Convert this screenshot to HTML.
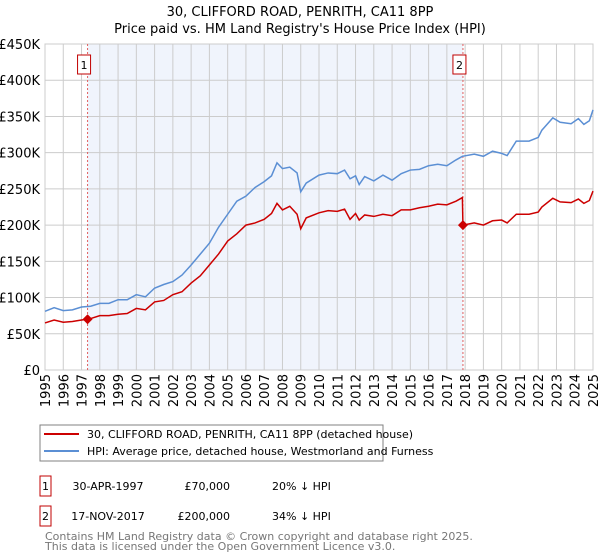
<!DOCTYPE html>
<html><head><meta charset="utf-8">
<style>
body{margin:0;background:#fff;font-family:"Liberation Sans","DejaVu Sans",sans-serif;}
#wrap{position:relative;width:600px;height:560px;overflow:hidden;}
svg text{font-family:"DejaVu Sans","Liberation Sans",sans-serif;}
</style></head>
<body>
<div id="wrap">
<svg id="chart" width="600" height="560"></svg>
</div>
<script>
const years = [1995,1995.5,1996,1996.5,1997,1997.5,1998,1998.5,1999,1999.5,2000,2000.5,2001,2001.5,2002,2002.5,2003,2003.5,2004,2004.5,2005,2005.5,2006,2006.5,2007,2007.4,2007.7,2008,2008.4,2008.8,2009,2009.3,2010,2010.5,2011,2011.4,2011.7,2012,2012.2,2012.5,2013,2013.5,2014,2014.5,2015,2015.5,2016,2016.5,2017,2017.5,2017.85,2018.5,2019,2019.5,2020,2020.3,2020.8,2021.5,2022,2022.2,2022.8,2023.2,2023.8,2024.2,2024.5,2024.8,2025];
const hpiValues = [81,86,82,83,87,88,92,92,97,97,104,101,113,118,122,131,145,160,175,197,215,233,240,252,260,268,286,278,280,272,246,258,269,272,271,276,264,268,256,267,261,269,262,271,276,277,282,284,282,290,295,298,295,302,299,296,316,316,321,331,348,342,340,347,339,344,359];
const years2 = [1995,1995.5,1996,1996.5,1997,1997.33,1997.5,1998,1998.5,1999,1999.5,2000,2000.5,2001,2001.5,2002,2002.5,2003,2003.5,2004,2004.5,2005,2005.5,2006,2006.5,2007,2007.4,2007.7,2008,2008.4,2008.8,2009,2009.3,2010,2010.5,2011,2011.4,2011.7,2012,2012.2,2012.5,2013,2013.5,2014,2014.5,2015,2015.5,2016,2016.5,2017,2017.5,2017.85,2017.88,2018.5,2019,2019.5,2020,2020.3,2020.8,2021.5,2022,2022.2,2022.8,2023.2,2023.8,2024.2,2024.5,2024.8,2025];
const priceValues = [65,69,66,67,69,70,71,75,75,77,78,85,83,94,96,104,108,120,130,145,160,178,188,200,203,208,216,230,221,226,215,195,210,217,220,219,222,208,216,207,214,212,215,213,221,221,224,226,229,228,233,238,200,203,200,206,207,203,215,215,218,225,237,232,231,236,230,234,247];
const yTicks = [0,50,100,150,200,250,300,350,400,450];
const yTickLabels = ["£0","£50K","£100K","£150K","£200K","£250K","£300K","£350K","£400K","£450K"];
const xTicks = [1995,1996,1997,1998,1999,2000,2001,2002,2003,2004,2005,2006,2007,2008,2009,2010,2011,2012,2013,2014,2015,2016,2017,2018,2019,2020,2021,2022,2023,2024,2025];
const saleYears = [1997.33,2017.88];
const saleValues = [70,200];
const saleLabels = ["1","2"];

const NS="http://www.w3.org/2000/svg";
const svg=document.getElementById('chart');
const L=45,R=593,T=44,B=370;
const xs=v=>L+(v-1995)/30*(R-L);
const ys=v=>B-v/450*(B-T);
function mk(tag,attrs,parent){const e=document.createElementNS(NS,tag);for(const k in attrs)e.setAttribute(k,attrs[k]);(parent||svg).appendChild(e);return e;}

let t=mk('text',{x:300,y:16,'text-anchor':'middle','font-size':13});


t.textContent='30, CLIFFORD ROAD, PENRITH, CA11 8PP';
t=mk('text',{x:300,y:33,'text-anchor':'middle','font-size':13});


t.textContent="Price paid vs. HM Land Registry's House Price Index (HPI)";

let bg=mk('rect',{x:xs(saleYears[0]),y:T,width:xs(saleYears[1])-xs(saleYears[0]),height:B-T,fill:'#f0f4fc'});



yTicks.forEach((v,i)=>{
  const g=mk('line',{x1:L,x2:R,y1:ys(v),y2:ys(v),stroke:'#cccccc','stroke-width':1});
  
  
  const lb=mk('text',{x:L-5,y:ys(v)+5,'text-anchor':'end','font-size':13});
  
  
  lb.textContent=yTickLabels[i];
});
xTicks.forEach(v=>{
  const g=mk('line',{x1:xs(v),x2:xs(v),y1:T,y2:B,stroke:'#cccccc','stroke-width':1});
  
  
  const lb=mk('text',{x:0,y:0,'text-anchor':'end','font-size':13,transform:`translate(${xs(v)+5},${B+4}) rotate(-90)`});
  
  
  lb.textContent=v;
});
let ax=mk('rect',{x:L,y:T,width:R-L,height:B-T,fill:'none',stroke:'#cccccc'});



saleYears.forEach((v,i)=>{
  const l=mk('line',{x1:xs(v),x2:xs(v),y1:T,y2:B,stroke:'#e06060','stroke-dasharray':'2,2','stroke-width':1});
  
  
  const r=mk('rect',{x:xs(v)-10,y:55,width:13,height:19,fill:'#fff',stroke:'#c00000'});
  
  
  const tx=mk('text',{x:xs(v)-3.5,y:69,'text-anchor':'middle','font-size':11});
  
  
  tx.textContent=saleLabels[i];
});

let hp=mk('polyline',{points:years.map((y,i)=>xs(y)+','+ys(hpiValues[i])).join(' '),fill:'none',stroke:'#5b8fd4','stroke-width':1.5});


let pp=mk('polyline',{points:years2.map((y,i)=>xs(y)+','+ys(priceValues[i])).join(' '),fill:'none',stroke:'#cc0000','stroke-width':1.5});


saleYears.forEach((v,i)=>{
  const cx=xs(v),cy=ys(saleValues[i]);
  const d=mk('polygon',{points:`${cx},${cy-5} ${cx+5},${cy} ${cx},${cy+5} ${cx-5},${cy}`,fill:'#cc0000'});
  
  
});

// legend
let lg=mk('rect',{x:40,y:425,width:343,height:36,fill:'#fff',stroke:'#808080'});


let l1=mk('line',{x1:44,x2:79,y1:434,y2:434,stroke:'#cc0000','stroke-width':2});


t=mk('text',{x:87,y:438,'font-size':11});


t.textContent='30, CLIFFORD ROAD, PENRITH, CA11 8PP (detached house)';
let l2=mk('line',{x1:44,x2:79,y1:451,y2:451,stroke:'#5b8fd4','stroke-width':2});


t=mk('text',{x:87,y:455,'font-size':11});


t.textContent='HPI: Average price, detached house, Westmorland and Furness';

const rows=[["1","30-APR-1997","£70,000","20% ↓ HPI",496],["2","17-NOV-2017","£200,000","34% ↓ HPI",526]];
rows.forEach(r=>{
  const b=mk('rect',{x:40,y:r[4]-20,width:11,height:20,fill:'#fff',stroke:'#c00000'});
  
  
  let a=mk('text',{x:45.5,y:r[4]-6,'text-anchor':'middle','font-size':11});
  
  
  a.textContent=r[0];
  a=mk('text',{x:108,y:r[4]-6,'text-anchor':'middle','font-size':11});
  
  
  a.textContent=r[1];
  a=mk('text',{x:230,y:r[4]-6,'text-anchor':'end','font-size':11});
  
  
  a.textContent=r[2];
  a=mk('text',{x:272,y:r[4]-6,'font-size':11});
  
  
  a.textContent=r[3];
});
t=mk('text',{x:45,y:540,'font-size':11,fill:'#777'});


t.textContent='Contains HM Land Registry data © Crown copyright and database right 2025.';
t=mk('text',{x:45,y:550,'font-size':11,fill:'#777'});


t.textContent='This data is licensed under the Open Government Licence v3.0.';
</script>
</body></html>
